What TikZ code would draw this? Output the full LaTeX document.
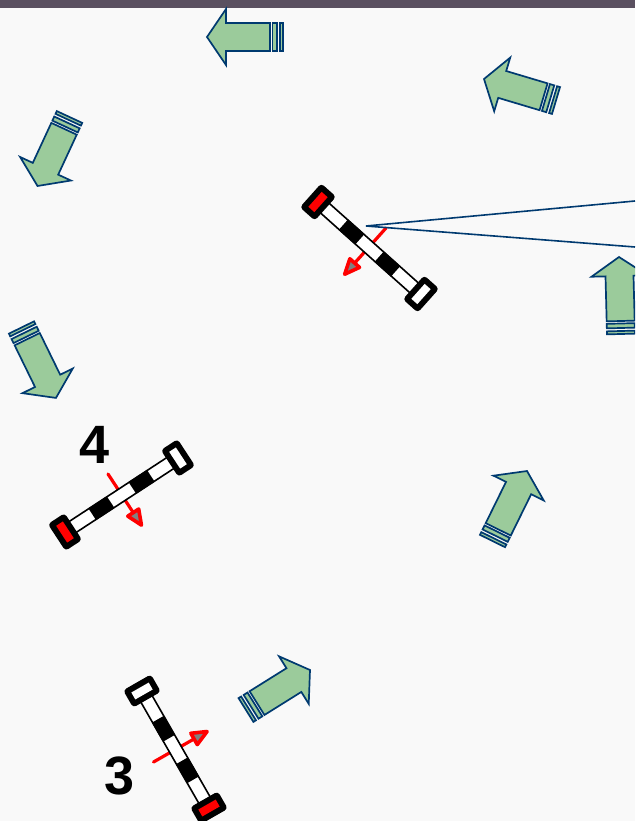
\documentclass[tikz,border=0pt]{standalone}
\usepackage{fontspec}
\setmainfont{Liberation Sans}
\definecolor{pagebg}{HTML}{F9F9F9}
\definecolor{topbar}{HTML}{5A5060}
\definecolor{arrowfill}{HTML}{9BCB9B}
\definecolor{arrowline}{HTML}{003A70}
\definecolor{headgray}{HTML}{808080}
\tikzset{
  greenshape/.style={draw=arrowline,fill=arrowfill,line width=1.7pt,line join=miter},
  sightline/.style={draw=arrowline,line width=1.6pt},
  dirline/.style={draw=red,line width=3.2pt,line cap=round},
  dirhead/.style={draw=red,fill=headgray,line width=3.6pt,line join=round},
  barbody/.style={draw=black,fill=white,line width=1.6pt},
  barblack/.style={fill=black},
  capouter/.style={fill=black,rounded corners=3.5pt},
  numlabel/.style={font=\bfseries\fontsize{54}{54}\selectfont,inner sep=0pt,text=black}
}
% tail x, tail y, tip x, tip y
\newcommand\greenarrow[4]{%
  \pgfmathsetmacro\myang{atan2(-(#4-#2),#3-#1)}%
  \pgfmathsetmacro\mylen{veclen(#3-#1,#4-#2)}%
  \begin{scope}[shift={(#1,#2)},rotate=\myang]
    \draw[greenshape] (0,-14) rectangle (3,14);
    \draw[greenshape] (6,-14) rectangle (10.5,14);
    \draw[greenshape] (13,-14) -- ({\mylen-19},-14) -- ({\mylen-19},-28) -- (\mylen,0)
      -- ({\mylen-19},28) -- ({\mylen-19},14) -- (13,14) -- cycle;
  \end{scope}}
% start, tip of red direction arrow
\newcommand\dirarrow[4]{%
  \pgfmathsetmacro\myang{atan2(-(#4-#2),#3-#1)}%
  \pgfmathsetmacro\mylen{veclen(#3-#1,#4-#2)}%
  \begin{scope}[shift={(#1,#2)},rotate=\myang]
    \draw[dirline] (0,0) -- ({\mylen-14},0);
    \draw[dirhead] ({\mylen-16},-6.5) -- ({\mylen-1},0) -- ({\mylen-16},6.5) -- cycle;
  \end{scope}}
% red end, white end
\newcommand\barrier[4]{%
  \pgfmathsetmacro\myang{atan2(-(#4-#2),#3-#1)}%
  \pgfmathsetmacro\mylen{veclen(#3-#1,#4-#2)}%
  \begin{scope}[shift={(#1,#2)},rotate=\myang]
    \draw[barbody] (0,-6.5) rectangle (\mylen,6.5);
    \fill[barblack] ({\mylen/2-35},-7) rectangle ({\mylen/2-13},7);
    \fill[barblack] ({\mylen/2+13},-7) rectangle ({\mylen/2+35},7);
    \fill[capouter] (-10,-16) rectangle (10,16);
    \fill[red] (-4,-10) rectangle (4,10);
    \fill[capouter] ({\mylen-10},-16) rectangle ({\mylen+10},16);
    \fill[white] ({\mylen-4},-10) rectangle ({\mylen+4},10);
  \end{scope}}
\begin{document}
\begin{tikzpicture}[x=1pt,y=-1pt]
  \useasboundingbox (0,0) rectangle (635,821);
  \clip (0,0) rectangle (635,821);
  \fill[pagebg] (0,0) rectangle (635,821);
  \fill[topbar] (0,0) rectangle (635,8);
  % green arrows
  \greenarrow{283}{37}{207}{37}
  \greenarrow{556}{100.5}{484}{79}
  \greenarrow{69.5}{117}{37.5}{186}
  \greenarrow{21.5}{327.5}{56}{398}
  \greenarrow{621}{334}{619}{257}
  \greenarrow{492.5}{541}{527}{471}
  \greenarrow{246}{710}{310}{670}
  % direction arrows
  \dirarrow{386}{228}{344}{275}
  \dirarrow{108}{474}{142}{526}
  \dirarrow{153.5}{762}{208}{731}
  % barriers
  \barrier{318}{202}{421}{294}
  \barrier{65}{532}{178}{458}
  \barrier{209}{808}{142}{691}
  % sight lines
  \coordinate (apex) at (366,226);
  \coordinate (upperend) at (635,201);
  \coordinate (lowerend) at (635,247);
  \draw[sightline] (upperend) -- (apex) -- (lowerend);
  % numbers
  \node[numlabel] (numfour) at (95,445) {4};
  \node[numlabel] (numthree) at (120,776) {3};
\end{tikzpicture}
\end{document}
